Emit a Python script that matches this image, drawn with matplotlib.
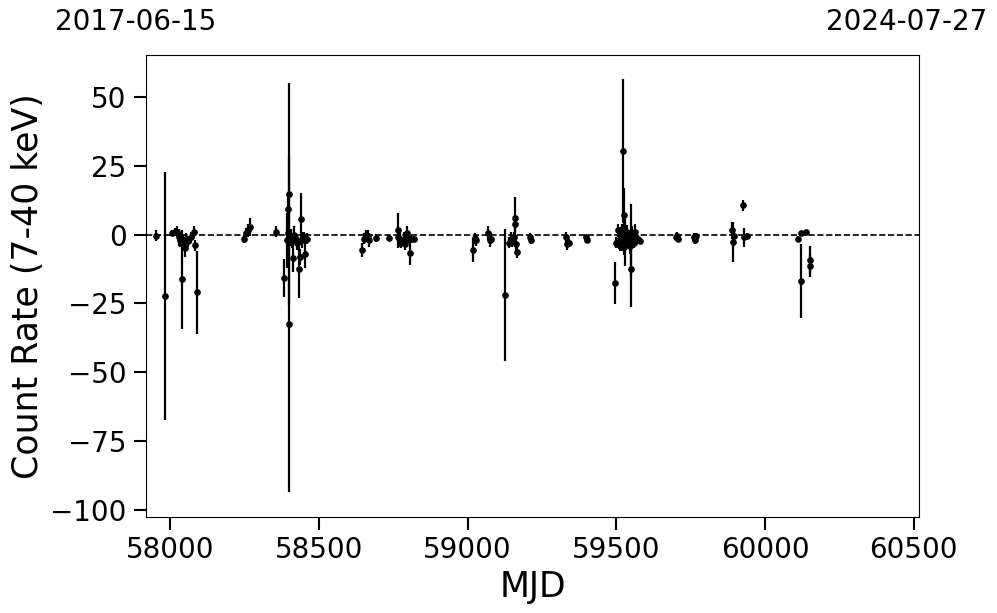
import numpy as np
import matplotlib
matplotlib.use("Agg")
import matplotlib.pyplot as plt

# light curve values (MJD, count rate, 1-sigma error)
mjd = [57953, 57983,
       58005, 58015, 58025, 58030, 58035, 58040, 58045, 58050, 58055, 58060,
       58070, 58080, 58085, 58090,
       58248, 58255, 58262, 58270, 58356,
       58383, 58393, 58395, 58398, 58400, 58401, 58405, 58410, 58413, 58418,
       58422, 58428, 58433, 58436, 58440, 58445, 58450, 58453, 58460,
       58645, 58652, 58658, 58665, 58668, 58692, 58735,
       58765, 58768, 58772, 58778, 58785, 58790, 58795, 58800, 58805, 58810, 58820,
       59018, 59025, 59030, 59068, 59075, 59080,
       59125, 59140, 59145, 59150, 59155, 59158, 59160, 59163, 59166,
       59210, 59212,
       59330, 59335, 59340, 59400, 59402,
       59495, 59500, 59505, 59508, 59512, 59515, 59518, 59520, 59523, 59525,
       59527, 59530, 59532, 59535, 59538, 59540, 59545, 59548, 59551, 59553,
       59556, 59560, 59563, 59566, 59572, 59580,
       59700, 59703, 59706, 59762, 59765, 59768,
       59890, 59892, 59895, 59926, 59928, 59941,
       60110, 60120, 60122, 60137, 60150, 60153]
rate = [-0.5, -22.4,
        0.5, 0.8, 1.0, -1.0, -2.0, -16.2, -3.0, -5.0, -1.5, -2.5,
        -1.0, 1.0, -3.8, -21.0,
        -1.7, 0.5, 1.5, 2.7, 1.0,
        -15.8, -2.0, 0.5, 9.3, 14.7, -32.5, -1.0, -2.5, -8.6, 0.0,
        -1.5, -3.0, -12.6, -8.2, 5.6, -2.0, -1.0, -7.1, -1.5,
        -5.6, -1.5, 0.0, -0.5, -2.0, -1.3, -1.3,
        1.5, -1.0, -2.0, -3.0, -1.5, -3.5, 0.5, -1.0, -6.7, -1.5, -1.5,
        -5.6, -1.3, -2.0, 0.5, -2.0, -1.5,
        -21.8, -3.0, -1.5, -2.5, -1.0, 4.0, 5.9, -3.5, -6.4,
        -1.0, -2.0,
        -1.0, -3.5, -3.0, -1.0, -2.0,
        -17.6, -3.0, 1.5, -2.0, -4.0, -1.0, 2.0, -3.5, 30.3, 7.1,
        -4.5, -3.0, -2.0, 1.0, -3.0, -1.0, -4.0, -2.0, -12.6, 0.0,
        -2.0, -3.0, 1.0, -2.0, -1.5, -2.5,
        -1.0, -0.5, -1.5, -1.0, -2.0, -0.5,
        1.5, -2.8, -0.5, 10.7, -1.0, -0.5,
        -1.6, -17.0, 0.5, 1.0, -11.5, -9.3]
err = [2.0, 45.0,
       1.0, 1.5, 2.0, 3.0, 2.5, 18.0, 3.0, 3.0, 2.0, 2.0,
       2.0, 2.0, 2.0, 15.0,
       1.5, 2.0, 2.5, 3.3, 2.0,
       7.0, 10.0, 2.0, 5.0, 40.3, 61.0, 3.0, 2.5, 5.0, 3.0,
       2.0, 2.5, 10.5, 3.0, 9.5, 3.0, 2.0, 5.0, 2.0,
       2.7, 2.0, 1.5, 2.0, 2.5, 1.5, 1.0,
       6.5, 2.0, 2.5, 2.0, 2.5, 2.0, 2.5, 2.0, 4.5, 1.5, 1.0,
       4.4, 2.0, 2.0, 2.5, 2.5, 2.0,
       24.0, 2.0, 2.5, 2.0, 2.0, 3.0, 7.7, 2.5, 2.0,
       1.5, 1.5,
       2.0, 2.0, 1.5, 1.0, 1.0,
       7.6, 2.0, 2.5, 3.0, 2.0, 3.0, 2.0, 2.5, 26.2, 10.0,
       3.0, 8.5, 2.0, 2.5, 2.0, 2.0, 3.0, 13.0, 13.8, 3.0,
       2.5, 2.0, 3.0, 2.0, 1.5, 1.0,
       1.5, 1.5, 1.0, 1.5, 1.5, 1.0,
       3.0, 7.2, 2.0, 2.0, 3.5, 1.0,
       1.0, 13.5, 0.8, 0.8, 4.0, 5.0]

start_date, end_date = "2017-06-15", "2024-07-27"
mjd_start, mjd_end = 57919, 60518

fig = plt.figure(figsize=(9.97, 6.13), dpi=100)
ax = fig.add_axes([0.1464, 0.1566, 0.7754, 0.7537])

ax.errorbar(mjd, rate, yerr=err, fmt='o', color='black', ms=3.8,
            elinewidth=1.6, capsize=0)
ax.axhline(0, color='black', ls='--', lw=1.2)

ax.set_xlim(mjd_start, mjd_end)
ax.set_ylim(-102.7, 65.3)
ax.set_xticks([58000, 58500, 59000, 59500, 60000, 60500])
ax.set_yticks([-100, -75, -50, -25, 0, 25, 50])
ax.tick_params(labelsize=20, length=9, width=1.5, pad=5)

ax.set_xlabel('MJD', fontsize=25)
ax.set_ylabel('Count Rate (7-40 keV)', fontsize=25)

fig.text(136 / 997, 1 - 22 / 613, start_date, fontsize=20, ha='center', va='center')
fig.text(907 / 997, 1 - 22 / 613, end_date, fontsize=20, ha='center', va='center')

fig.savefig('out.png', dpi=100)
